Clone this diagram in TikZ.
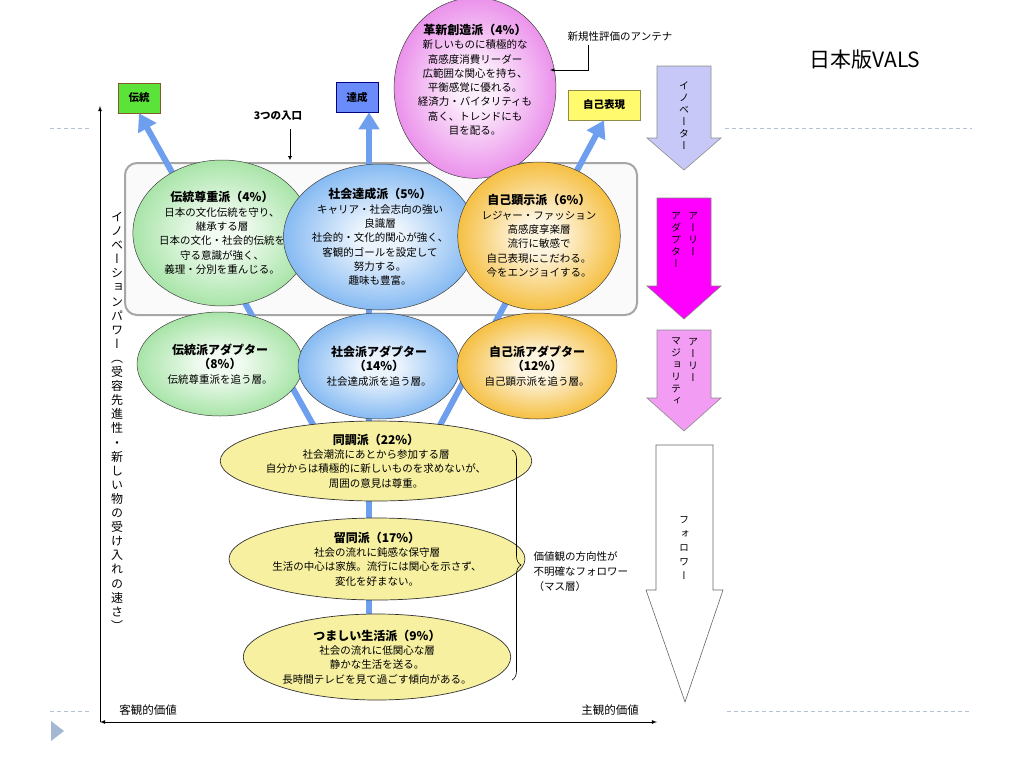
\documentclass[tikz,border=0pt]{standalone}
\usepackage{fontspec}
\setmainfont{Noto Sans CJK JP}
\newfontfamily\tatefont[RawFeature=+vert]{Noto Sans CJK JP}
\usetikzlibrary{arrows,arrows.meta,shapes.geometric,decorations.pathreplacing}

\definecolor{lineblue}{HTML}{6E9FEF}
\definecolor{greenbox}{HTML}{5BE33A}
\definecolor{bluebox}{HTML}{6A8CFA}
\definecolor{yellowbox}{HTML}{FFFA6E}
\definecolor{circgreen}{HTML}{8ADB8A}
\definecolor{circblue}{HTML}{5BA2EE}
\definecolor{circorange}{HTML}{F2A900}
\definecolor{circpink}{HTML}{E46BE4}
\definecolor{folyellow}{HTML}{F6F0A0}
\definecolor{innov}{HTML}{C8C8F8}
\definecolor{earlyad}{HTML}{FF00FF}
\definecolor{earlymaj}{HTML}{F39CF3}
\definecolor{slidedash}{HTML}{B4C2D4}
\definecolor{bulletblue}{HTML}{A3B8D3}

\colorlet{shin}{white}
\colorlet{shout}{gray}
\pgfdeclareradialshading[shin,shout]{softball}{\pgfpoint{0bp}{0bp}}{color(0bp)=(shin); color(6bp)=(shin); color(33bp)=(shout); color(50bp)=(shout)}

\newcommand{\segtitle}[1]{{\bfseries\fontsize{12}{15}\selectfont #1}}

\begin{document}
\begin{tikzpicture}[x=1pt, y=-1pt,
		seg/.style={ellipse, draw=black!75, line width=0.5pt, align=center, inner sep=0pt, font=\fontsize{10.5}{14.3}\selectfont},
		soft/.style={shade, shading=softball, /utils/exec={\colorlet{shin}{#1!12!white}\colorlet{shout}{#1}}},
		follow/.style={seg, fill=folyellow, draw=black!80, line width=0.7pt},
		valbox/.style={line width=0.6pt, minimum height=30pt, inner sep=3pt, font=\bfseries\fontsize{10.5}{12}\selectfont},
		flow/.style={draw=lineblue, line width=6pt, -{Triangle[width=20pt,length=17pt]}},
		tate/.style={font=\tatefont\fontsize{10}{12}\selectfont, align=center, inner sep=0pt, anchor=north},
		stage/.style={line width=0.6pt, line join=miter}]
			\fill[white] (0,0) rectangle (1024,768);
			\useasboundingbox (0,0) rectangle (1024,768);
			\draw[slidedash, line width=0.8pt, dash pattern=on 4pt off 3pt] (50,128) -- (92,128);
			\draw[slidedash, line width=0.8pt, dash pattern=on 4pt off 3pt] (725,128) -- (972,128);
			\draw[slidedash, line width=0.8pt, dash pattern=on 4pt off 3pt] (50,711) -- (92,711);
			\draw[slidedash, line width=0.8pt, dash pattern=on 4pt off 3pt] (727,711) -- (972,711);
			\fill[bulletblue] (51,721) -- (64,731) -- (51,741) -- cycle;
			\node[font=\fontsize{21}{24}\selectfont] (slideTitle) at (865,60) {日本版VALS};

			\coordinate (axO) at (100,722);
			\coordinate (axTop) at (100,106);
			\coordinate (axRight) at (657,722);
			\draw[-latex, line width=0.8pt] (axO) -- (axTop);
			\draw[latex-latex, line width=0.8pt] (axO) -- (axRight);
			\node[font=\fontsize{11.5}{13}\selectfont] (objVal) at (148,710) {客観的価値};
			\node[font=\fontsize{11.5}{13}\selectfont] (subjVal) at (610,710) {主観的価値};
			\node[tate, font=\tatefont\fontsize{12}{14.1}\selectfont] (powerLbl) at (117,212) {イ\\ノ\\ベ\\ー\\シ\\ョ\\ン\\パ\\ワ\\ー\\（\\受\\容\\先\\進\\性\\・\\新\\し\\い\\物\\の\\受\\け\\入\\れ\\の\\速\\さ\\）};

			\draw[draw=black!35, fill=black!2, line width=2pt, rounded corners=12pt] (125,163) rectangle (637,315);

			\node[valbox, fill=greenbox, draw=brown!70!black, minimum width=42pt] (dentoBox) at (139,98) {伝統};
			\node[valbox, fill=bluebox, draw=blue!50!black, minimum width=42pt] (tasseiBox) at (357,97) {達成};
			\node[valbox, fill=yellowbox, draw=yellow!50!black, minimum width=72pt] (jikoBox) at (604,105) {自己表現};

			\node[font=\bfseries\fontsize{10.5}{12}\selectfont] (iriguchi) at (278,116) {3つの入口};
			\coordinate (iriTip) at (290,160);
			\draw[-{Latex[length=4pt,width=4pt]}, line width=0.4pt, shorten <=5pt] (iriguchi.south -| iriTip) -- (iriTip);

			\coordinate (rootL) at (330,455);
			\coordinate (rootM) at (369,640);
			\coordinate (rootR) at (424,455);
			\draw[flow] (rootL) -- (dentoBox.south);
			\draw[flow] (rootM) -- (rootM |- tasseiBox.south);
			\draw[flow] (rootR) -- (jikoBox.south);

			\node[seg, soft=circpink, minimum width=140pt, minimum height=145pt] (kakushin) at (475,88) {\segtitle{革新創造派（4\%）}\\新しいものに積極的な\\高感度消費リーダー\\広範囲な関心を持ち、\\平衡感覚に優れる。\\経済力・バイタリティも\\高く、トレンドにも\\目を配る。\\[3pt]};
			\node[font=\fontsize{10.5}{12}\selectfont] (antenna) at (620,37) {新規性評価のアンテナ};
			\coordinate (antBend) at (588,70);
			\coordinate (antTip) at (550,70);
			\draw[-latex, line width=0.5pt] (antenna.south -| antBend) -- (antBend) -- (antTip);

			\node[seg, soft=circgreen, minimum width=172pt, minimum height=146pt] (dentoSon) at (222,233) {\segtitle{伝統尊重派（4\%）}\\日本の文化伝統を守り、\\継承する層\\日本の文化・社会的伝統を\\守る意識が強く、\\義理・分別を重んじる。};
			\node[seg, soft=circblue, minimum width=162pt, minimum height=146pt] (shakaiTassei) at (380,237) {\segtitle{社会達成派（5\%）}\\キャリア・社会志向の強い\\良識層\\社会的・文化的関心が強く、\\客観的ゴールを設定して\\努力する。\\趣味も豊富。};
			\node[seg, soft=circorange, minimum width=162pt, minimum height=148pt] (jikoKenji) at (539,236) {\segtitle{自己顕示派（6\%）}\\レジャー・ファッション\\高感度享楽層\\流行に敏感で\\自己表現にこだわる。\\今をエンジョイする。};

			\node[seg, soft=circgreen, minimum width=166pt, minimum height=104pt] (dentoAd) at (220,364) {\segtitle{伝統派アダプター}\\\segtitle{（8\%）}\\伝統尊重派を追う層。};
			\node[seg, soft=circblue, minimum width=162pt, minimum height=106pt] (shakaiAd) at (379,366) {\segtitle{社会派アダプター}\\\segtitle{（14\%）}\\社会達成派を追う層。};
			\node[seg, soft=circorange, minimum width=160pt, minimum height=106pt] (jikoAd) at (537,366) {\segtitle{自己派アダプター}\\\segtitle{（12\%）}\\自己顕示派を追う層。};

			\node[follow, minimum width=264pt, minimum height=80pt] (docho) at (376,461) {\segtitle{同調派（22\%）}\\社会潮流にあとから参加する層\\自分からは積極的に新しいものを求めないが、\\周囲の意見は尊重。};
			\node[follow, minimum width=262pt, minimum height=82pt] (ryudo) at (377,559) {\segtitle{留同派（17\%）}\\社会の流れに鈍感な保守層\\生活の中心は家族。流行には関心を示さず、\\変化を好まない。};
			\node[follow, minimum width=266pt, minimum height=86pt] (tsumashii) at (377,657) {\segtitle{つましい生活派（9\%）}\\社会の流れに低関心な層\\静かな生活を送る。\\長時間テレビを見て過ごす傾向がある。};

			\draw[decorate, decoration={brace, amplitude=9pt}, line width=0.6pt] (512,450) -- (512,680);
			\node[anchor=west, align=left, font=\fontsize{10.5}{15}\selectfont] (massLbl) at (530,572) {価値観の方向性が\\不明確なフォロワー\\（マス層）};

			\draw[stage, fill=innov, draw=black!45] (657,66) -- (711,66) -- (711,138) -- (721,138) -- (684,170) -- (647,138) -- (657,138) -- cycle;
			\node[tate] (innovLbl) at (684,82) {イ\\ノ\\ベ\\ー\\タ\\ー};
			\draw[stage, fill=earlyad, draw=black!50] (657,198) -- (711,198) -- (711,286) -- (721,286) -- (684,319) -- (647,286) -- (657,286) -- cycle;
			\node[tate] (earlyAdR) at (693,212) {ア\\ー\\リ\\ー};
			\node[tate] (earlyAdL) at (676,212) {ア\\ダ\\プ\\タ\\ー};
			\draw[stage, fill=earlymaj, draw=black!45] (657,330) -- (711,330) -- (711,398) -- (721,398) -- (684,431) -- (647,398) -- (657,398) -- cycle;
			\node[tate] (earlyMajR) at (693,338) {ア\\ー\\リ\\ー};
			\node[tate] (earlyMajL) at (676,338) {マ\\ジ\\ョ\\リ\\テ\\ィ};
			\draw[stage, fill=white, draw=black!60] (656,445) -- (713,445) -- (713,590) -- (723,590) -- (685,702) -- (646,590) -- (656,590) -- cycle;
			\node[tate, font=\tatefont\fontsize{10}{14}\selectfont] (followLbl) at (684,516) {フ\\ォ\\ロ\\ワ\\ー};
		\end{tikzpicture}
\end{document}
